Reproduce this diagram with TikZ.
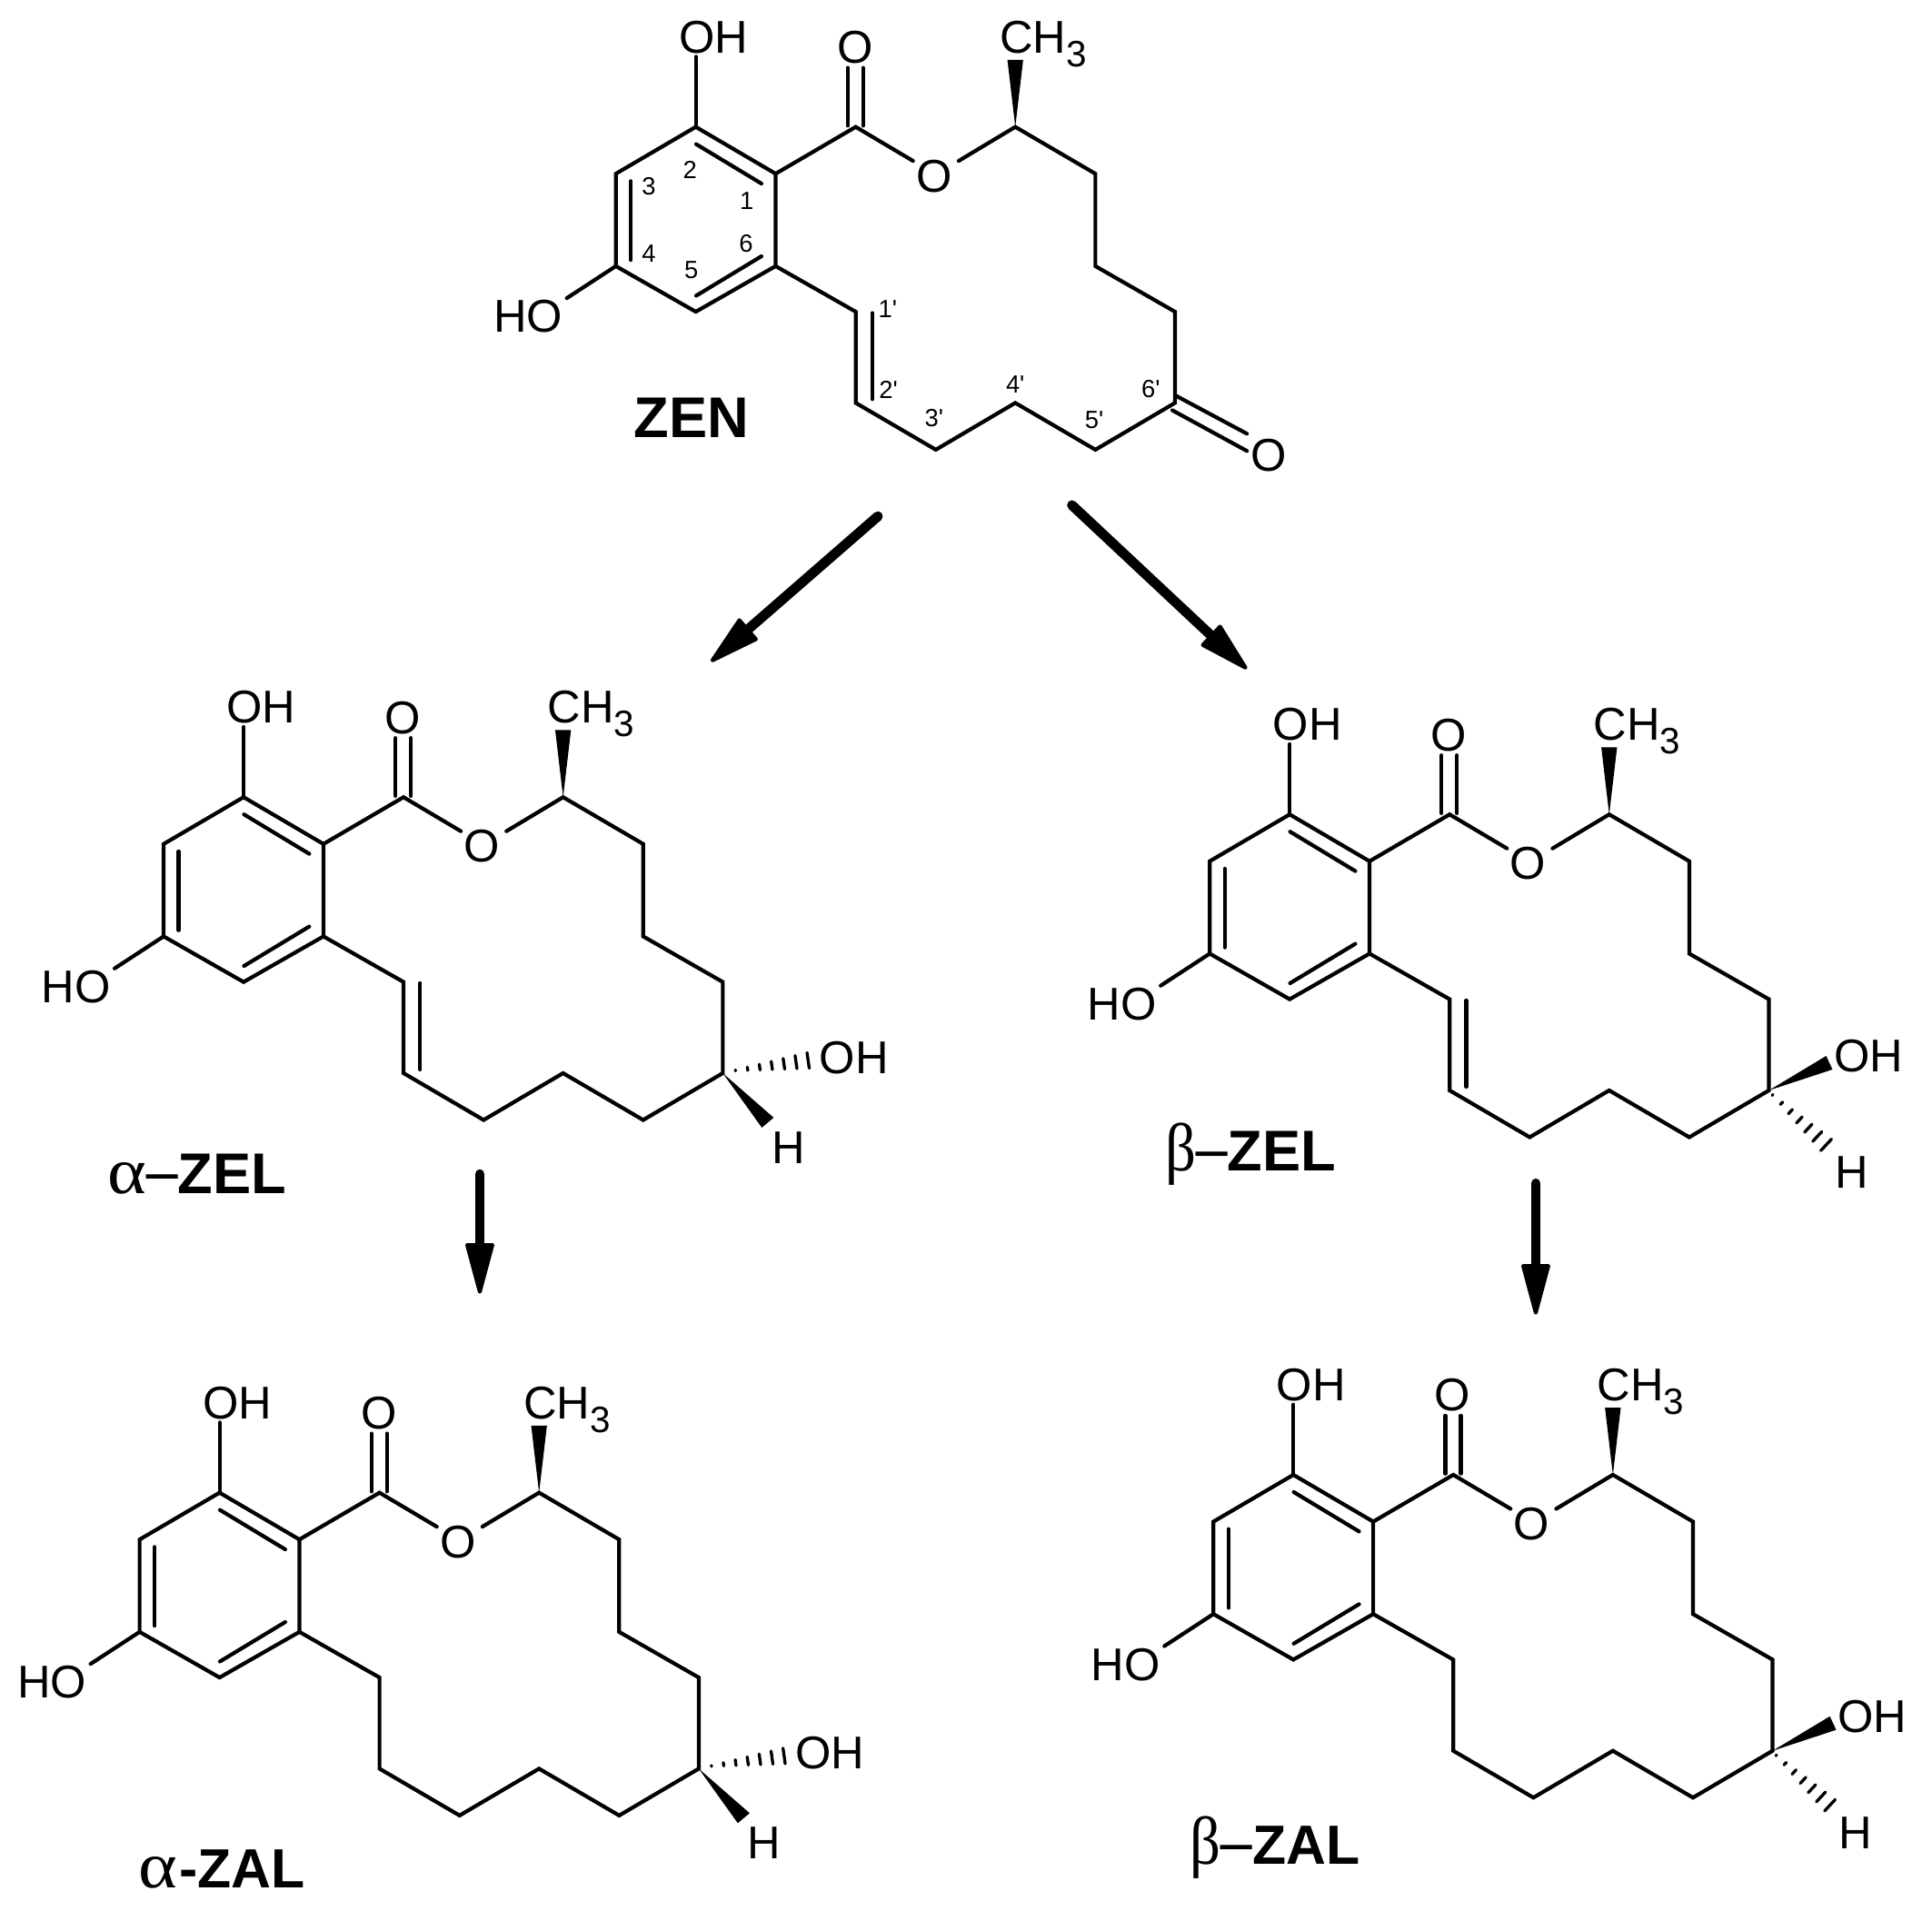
\documentclass[tikz,border=0pt]{standalone}
\usepackage{fontspec}
\usepackage{graphicx}
\setmainfont{Liberation Sans}
\newfontfamily\grkfont{Liberation Serif}
\newfontfamily\numfont{Liberation Sans}
\usetikzlibrary{arrows.meta,calc}
\tikzset{
  bond/.style={line width=1.2pt,line join=miter,line cap=round,black},
  hashbar/.style={line width=0.95pt,line cap=round,black},
  atomlabel/.style={inner sep=0pt,font=\fontsize{14.4}{16}\selectfont,text=black},
  numlabel/.style={inner sep=0pt,font=\numfont\fontsize{7.8}{9}\selectfont,text=black},
  namelabel/.style={inner sep=0pt,anchor=base west,font=\fontsize{18}{20}\selectfont\bfseries,text=black},
  namelabelal/.style={namelabel,font=\fontsize{17.3}{20}\selectfont\bfseries},
  reaction/.style={line width=3.1pt,line cap=round,black,-{Triangle[length=0.62cm,width=0.32cm,line width=1.2pt,round]}},
}
\newcommand{\grkA}{\scalebox{1.22}[1.08]{\fontsize{19}{20}\selectfont\mdseries\grkfont α}}
\newcommand{\grkB}{\scalebox{1}[1.12]{\fontsize{19}{20}\selectfont\mdseries\grkfont β}}
\newcommand{\grkD}{\raisebox{-0.04cm}{\scalebox{1}[1.4]{\fontsize{19.5}{20}\selectfont\mdseries\grkfont –}}}
% skeleton of the macrolactone: prefix, dx, dy
\newcommand{\Skeleton}[3]{%
  \coordinate (#1c2) at (#2+564.7,#3+103);
  \coordinate (#1c1) at (#2+629.5,#3+141);
  \coordinate (#1c6) at (#2+629.5,#3+216);
  \coordinate (#1c5) at (#2+564.7,#3+253);
  \coordinate (#1c4) at (#2+499.8,#3+216);
  \coordinate (#1c3) at (#2+499.8,#3+141);
  \coordinate (#1co) at (#2+694.5,#3+103);
  \coordinate (#1me) at (#2+824,#3+103);
  \coordinate (#1d1) at (#2+889,#3+141);
  \coordinate (#1d2) at (#2+889,#3+216);
  \coordinate (#1d3) at (#2+953.6,#3+253);
  \coordinate (#1d4) at (#2+953.6,#3+327);
  \coordinate (#1d5) at (#2+889,#3+365);
  \coordinate (#1d6) at (#2+824,#3+327);
  \coordinate (#1d7) at (#2+759.5,#3+365);
  \coordinate (#1d8) at (#2+694.5,#3+327);
  \coordinate (#1d9) at (#2+694.5,#3+253);
  \coordinate (#1ohtop) at (#2+564.7,#3+46);
  \coordinate (#1ohlow) at (#2+460,#3+242);
  \coordinate (#1est1) at (#2+741,#3+130.6);
  \coordinate (#1est2) at (#2+778,#3+130.6);
  \coordinate (#1cot1) at (#2+688,#3+55);
  \coordinate (#1cob1) at (#2+688,#3+102);
  \coordinate (#1cot2) at (#2+700.5,#3+55);
  \coordinate (#1cob2) at (#2+700.5,#3+102);
  \coordinate (#1ia) at (#2+565,#3+117);
  \coordinate (#1ib) at (#2+618,#3+149);
  \coordinate (#1ic) at (#2+512,#3+147);
  \coordinate (#1id) at (#2+512,#3+211);
  \coordinate (#1ie) at (#2+565,#3+240);
  \coordinate (#1if) at (#2+618,#3+208);
  \coordinate (#1wl) at (#2+817.6,#3+48.5);
  \coordinate (#1wr) at (#2+830.4,#3+48.5);
  \draw[bond] (#1c2) -- (#1c1) -- (#1c6) -- (#1c5) -- (#1c4) -- (#1c3) -- cycle;
  \draw[bond] (#1ia) -- (#1ib);
  \draw[bond] (#1ic) -- (#1id);
  \draw[bond] (#1ie) -- (#1if);
  \draw[bond] (#1c2) -- (#1ohtop);
  \draw[bond] (#1c4) -- (#1ohlow);
  \draw[bond] (#1c1) -- (#1co) -- (#1est1);
  \draw[bond] (#1cot1) -- (#1cob1);
  \draw[bond] (#1cot2) -- (#1cob2);
  \draw[bond] (#1est2) -- (#1me) -- (#1d1) -- (#1d2) -- (#1d3) -- (#1d4) -- (#1d5) -- (#1d6) -- (#1d7) -- (#1d8) -- (#1d9) -- (#1c6);
  \fill[black] (#1me) -- (#1wl) -- (#1wr) -- cycle;
  \node[atomlabel] (#1lOHa) at (#2+579,#3+30) {OH};
  \node[atomlabel] (#1lOHb) at (#2+428.6,#3+257) {HO};
  \node[atomlabel] (#1lOc) at (#2+694,#3+38.5) {O};
  \node[atomlabel] (#1lOe) at (#2+758,#3+143) {O};
  \node[atomlabel,anchor=base west] (#1lMe) at (#2+811,#3+43) {CH\raisebox{-0.15cm}{\fontsize{11.5}{12}\selectfont 3}};
}
\newcommand{\DoubleEne}[3]{%
  \coordinate (#1ig) at (#2+708,#3+254);
  \coordinate (#1ih) at (#2+708,#3+324);
  \draw[bond] (#1ig) -- (#1ih);
}
% alpha centre: OH hashed, H wedged
\newcommand{\AlphaCentre}[1]{%
  \coordinate (#1wa) at ($(#1d4)+(41.3,36.1)$);
  \coordinate (#1wb) at ($(#1d4)+(31.7,44.2)$);
  \fill[black] (#1d4) -- (#1wa) -- (#1wb) -- cycle;
  \foreach \i in {0,...,6}{
    \pgfmathsetmacro{\cx}{10.3+\i*9.83}
    \pgfmathsetmacro{\cy}{-2.2-\i*1.35}
    \pgfmathsetmacro{\hl}{0.4+\i*1.0}
    \draw[hashbar] ($(#1d4)+(\cx-0.14*\hl,\cy-0.99*\hl)$) -- ($(#1d4)+(\cx+0.14*\hl,\cy+0.99*\hl)$);
  }
  \node[atomlabel] (#1lOHc) at ($(#1d4)+(106.4,-12.5)$) {OH};
  \node[atomlabel] (#1lH) at ($(#1d4)+(53.3,60.5)$) {H};
}
% beta centre: OH wedged, H hashed
\newcommand{\BetaCentre}[1]{%
  \coordinate (#1wa) at ($(#1d4)+(46.5,-28)$);
  \coordinate (#1wb) at ($(#1d4)+(51.6,-17)$);
  \fill[black] (#1d4) -- (#1wa) -- (#1wb) -- cycle;
  \foreach \i in {0,...,6}{
    \pgfmathsetmacro{\cx}{3+\i*7.25}
    \pgfmathsetmacro{\cy}{3.7+\i*6.75}
    \pgfmathsetmacro{\hl}{0.4+\i*1.0}
    \draw[hashbar] ($(#1d4)+(\cx+0.68*\hl,\cy-0.73*\hl)$) -- ($(#1d4)+(\cx-0.68*\hl,\cy+0.73*\hl)$);
  }
  \node[atomlabel] (#1lOHc) at ($(#1d4)+(81,-28)$) {OH};
  \node[atomlabel] (#1lH) at ($(#1d4)+(67,66.4)$) {H};
}
\begin{document}
\begin{tikzpicture}[x=0.013559cm,y=-0.013559cm]
\useasboundingbox (0,0) rectangle (1568,1559);
% ZEN
\Skeleton{z}{0}{0}
\DoubleEne{z}{0}{0}
\coordinate (zka) at (954,321);
\coordinate (zkb) at (1012,352);
\coordinate (zkc) at (951.5,333);
\coordinate (zkd) at (1012,366);
\draw[bond] (zka) -- (zkb);
\draw[bond] (zkc) -- (zkd);
\node[atomlabel] (zlOk) at (1029.5,369.5) {O};
\node[numlabel] (n1) at (606,163) {1};
\node[numlabel] (n2) at (560,138) {2};
\node[numlabel] (n3) at (526.5,151) {3};
\node[numlabel] (n4) at (526.5,206) {4};
\node[numlabel] (n5) at (561,219) {5};
\node[numlabel] (n6) at (605.5,198) {6};
\node[numlabel] (p1) at (720.5,250.5) {1'};
\node[numlabel] (p2) at (721,316) {2'};
\node[numlabel] (p3) at (758,339) {3'};
\node[numlabel] (p4) at (824,312) {4'};
\node[numlabel] (p5) at (888,341) {5'};
\node[numlabel] (p6) at (934,316) {6'};
\node[namelabel] (lzen) at (514,355) {ZEN};
% alpha-ZEL
\Skeleton{a}{-367}{544}
\DoubleEne{a}{-367}{544}
\AlphaCentre{a}
\node[namelabel] (lazel) at (87,969) {\makebox[0.42cm][l]{\grkA}\makebox[0.35cm][c]{\grkD}ZEL};
% beta-ZEL
\Skeleton{b}{482}{558}
\DoubleEne{b}{482}{558}
\BetaCentre{b}
\node[namelabel] (lbzel) at (945,950) {\makebox[0.345cm][l]{\grkB}\makebox[0.345cm][c]{\grkD}ZEL};
% alpha-ZAL
\Skeleton{c}{-386.5}{1108.5}
\AlphaCentre{c}
\node[namelabelal] (lazal) at (112,1532) {\makebox[0.45cm][l]{\grkA}\makebox[0.20cm][c]{-}ZAL};
% beta-ZAL
\Skeleton{d}{485}{1094}
\BetaCentre{d}
\node[namelabelal] (lbzal) at (965,1513) {\makebox[0.345cm][l]{\grkB}\makebox[0.345cm][c]{\grkD}ZAL};
% reaction arrows
\coordinate (ra1) at (712.5,419);
\coordinate (ra2) at (577,537);
\coordinate (rb1) at (870,410);
\coordinate (rb2) at (1012,543);
\coordinate (rc1) at (389.4,953);
\coordinate (rc2) at (389.4,1050);
\coordinate (rd1) at (1246.4,960.5);
\coordinate (rd2) at (1246.4,1067);
\draw[reaction] (ra1) -- (ra2);
\draw[reaction] (rb1) -- (rb2);
\draw[reaction] (rc1) -- (rc2);
\draw[reaction] (rd1) -- (rd2);
\end{tikzpicture}
\end{document}
